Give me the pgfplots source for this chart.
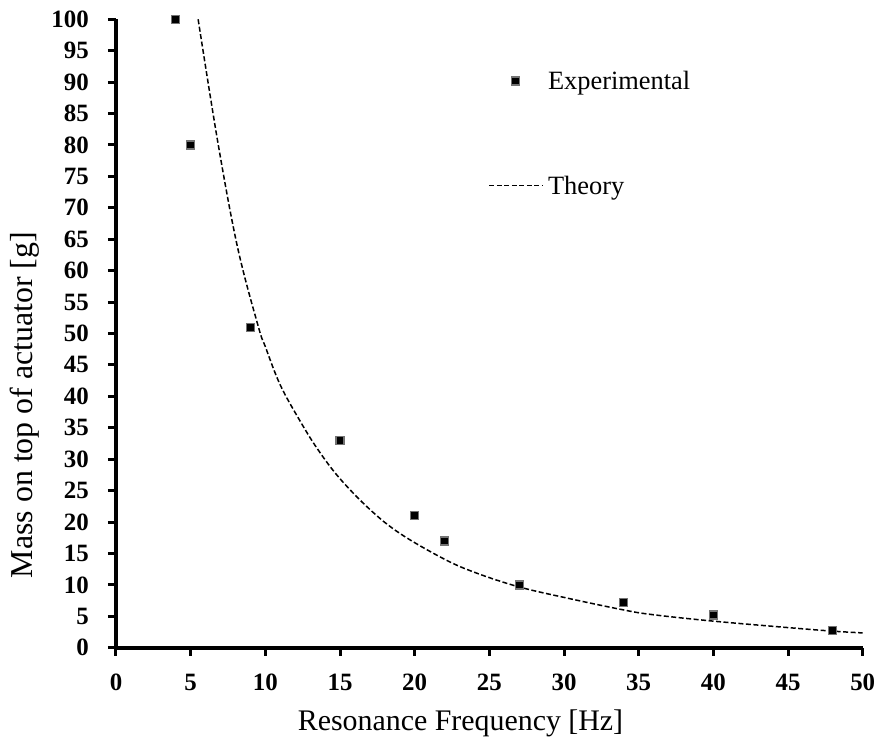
\documentclass[border=0pt]{standalone}
\usepackage{pgfplots}
\pgfplotsset{compat=1.18}
\usepackage{fontspec}
\setmainfont{Liberation Serif}

% Measured resonance frequencies for each added mass
\pgfplotstableread{
f    m
4    100
5    80
9    51
15   33
20   21
22   17
27   10
34   7.2
40   5.2
48   2.7
}\experimental

% Model prediction of the mass-frequency relation
\pgfplotstableread{
f     m
5.5   100
6.85  80
8.15  63.6
9.53  51.1
10    47.9
11    41.8
12.32 36.1
13.5  31.6
14.96 27.0
17    22.0
19.0  18.2
21.9  14.2
24    12.0
26.95 9.7
30.2  7.9
33.8  6.1
35.8  5.3
39.9  4.25
45    3.2
47.9  2.65
50    2.35
}\theory

\begin{document}
\begin{tikzpicture}
\begin{axis}[
  at={(0,0)}, anchor=south west,
  scale only axis,
  width=746.7bp, height=628.4bp,
  xmin=0, xmax=50, ymin=0, ymax=100,
  axis lines=left,
  axis line style={-, line width=4bp},
  xtick={0,5,...,50},
  ytick={0,5,...,100},
  tick align=outside,
  major tick length=8bp,
  tick style={line width=3bp, black},
  /pgf/number format/assume math mode=true,
  ticklabel style={font=\fontsize{25}{29}\selectfont\bfseries, inner sep=0pt},
  yticklabel style={xshift=-19bp},
  xticklabel style={yshift=-18bp},
  xlabel={Resonance Frequency [Hz]},
  ylabel={Mass on top of actuator [g]},
  xlabel style={font=\fontsize{30}{36}\selectfont, at={(axis description cs:0.4614,-0.131)}, anchor=base},
  ylabel style={font=\fontsize{32}{38}\selectfont, at={(axis description cs:-0.1118,0.3862)}, anchor=base},
  legend cell align=left,
  legend style={draw=none, fill=none, at={(axis description cs:0.4986,0.918)}, anchor=north west,
    inner sep=0pt, font=\fontsize{26.5}{31}\selectfont,
    nodes={inner sep=0pt}, column sep=5bp, row sep=85bp},
]
\addplot[only marks, mark=square*, mark size=4bp,
  mark options={fill=black, draw=black!55, line width=1.3bp},
  legend image code/.code={\draw[mark repeat=2, mark phase=2] plot coordinates {(0bp,0bp) (26bp,0bp) (53bp,0bp)};}]
  table[x=f, y=m] {\experimental};
\addlegendentry{Experimental}
\addplot[black, line width=1.5bp, dash pattern=on 5bp off 2.5bp, smooth, tension=0.6,
  legend image code/.code={\draw (0bp,0bp) -- (53bp,0bp);}]
  table[x=f, y=m] {\theory};
\addlegendentry{Theory}
\end{axis}
\pgfresetboundingbox
\path[use as bounding box] (-116bp,-96.3bp) rectangle (763bp,647.7bp);
\end{tikzpicture}
\end{document}
